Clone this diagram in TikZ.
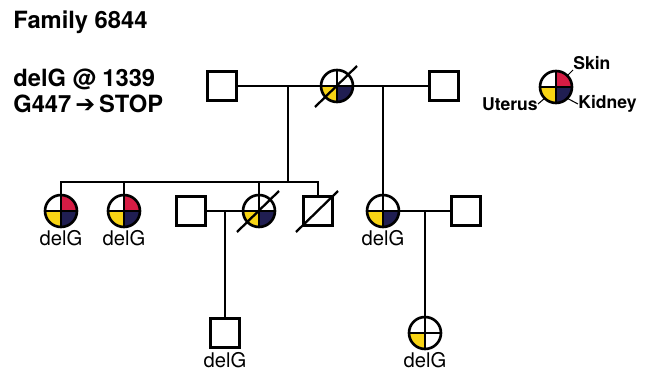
\documentclass[tikz,border=0pt]{standalone}
\usepackage{fontspec}
\setmainfont{TeX Gyre Heros}
\newfontfamily\arrowfont{DejaVu Sans}
\usetikzlibrary{calc,backgrounds}

\definecolor{skinred}{RGB}{214,28,68}
\definecolor{uterusyellow}{RGB}{248,212,20}
\definecolor{kidneynavy}{RGB}{32,30,82}

\tikzset{
  male/.style={draw, rectangle, line width=1.5pt, minimum size=0.58cm, inner sep=0pt, outer sep=0pt},
  female/.style={draw, circle, line width=1.5pt, minimum size=0.64cm, inner sep=0pt, outer sep=0pt,
    path picture={\draw[line width=1pt] (path picture bounding box.north) -- (path picture bounding box.south)
      (path picture bounding box.west) -- (path picture bounding box.east);}},
  line/.style={line width=1.5pt},
  dead/.style={line width=1.3pt},
  tick/.style={line width=0.6pt},
  lbl/.style={font=\fontsize{11.5}{14}\selectfont, inner sep=0pt},
  head/.style={font=\fontsize{13.5}{16}\selectfont\bfseries, anchor=west, inner sep=0pt},
  organ/.style={font=\fontsize{10}{12}\selectfont\bfseries, inner sep=0pt},
}
% one coloured quarter of a female symbol
\newcommand{\organq}[3]{%
  \fill[#3] (#1.center) -- (#1.#2) arc[start angle=#2, delta angle=90, radius=0.32cm] -- cycle;}
% slash through a deceased person
\newcommand{\deceased}[1]{%
  \draw[dead] ($(#1.center)+(-22,-21)$) -- ($(#1.center)+(20,20)$);}

\begin{document}
\begin{tikzpicture}[x=0.02cm, y=0.02cm]
  \useasboundingbox (0,0) rectangle (647,372);
  % Title and mutation
  \node[head] (title) at (13,350) {Family 6844};
  \node[head] (mut1) at (13,293) {delG @ 1339};
  \node[head] (mut2) at (13,268) {G447\,{\arrowfont ➔}\,STOP};
  % Generation I
  \node[male] (gfa) at (222,286) {};
  \node[female] (gm) at (337,286) {};
  \node[male] (gfb) at (444,286) {};
  \coordinate (ma) at (288,286);
  \coordinate (mb) at (383,286);
  \draw[line] (gfa) -- (gm) -- (gfb);
  % Generation II
  \coordinate (sib) at (288,190);
  \node[female] (d1) at (61,161) {};
  \node[female] (d2) at (124,161) {};
  \node[male] (h3) at (191,161) {};
  \node[female] (d3) at (259,161) {};
  \node[male] (s1) at (318,161) {};
  \node[female] (d4) at (383,161) {};
  \node[male] (h4) at (466,161) {};
  \draw[line] (ma) -- (sib);
  \draw[line] (d1) -- (d1 |- sib) -- (s1 |- sib) -- (s1);
  \draw[line] (d2) -- (d2 |- sib);
  \draw[line] (d3) -- (d3 |- sib);
  \draw[line] (mb) -- (d4);
  \draw[line] (h3) -- (d3);
  \draw[line] (d4) -- (h4);
  \node[lbl] (d1g) at (61,134) {delG};
  \node[lbl] (d2g) at (124,134) {delG};
  \node[lbl] (d4g) at (383,134) {delG};
  % Generation III
  \coordinate (mc) at (225,161);
  \coordinate (md) at (425,161);
  \node[male] (son) at (225,39) {};
  \node[female] (gd) at (425,39) {};
  \draw[line] (mc) -- (son);
  \draw[line] (md) -- (gd);
  \node[lbl] (song) at (225,12) {delG};
  \node[lbl] (gdg) at (425,12) {delG};
  % Key
  \node[female] (key) at (556,285) {};
  \node[organ, anchor=south west] (skin) at (573,302) {Skin};
  \node[organ, anchor=east] (uterus) at (538,268) {Uterus};
  \node[organ, anchor=west] (kidney) at (578,268) {Kidney};
  \draw[tick] (key.45) -- (skin.south west);
  \draw[tick] (key.225) -- (uterus.east);
  \draw[tick] (key.315) -- (kidney.west);
  % Deceased
  \deceased{gm}
  \deceased{d3}
  \deceased{s1}
  % Affected organs
  \begin{scope}[on background layer]
    \organq{key}{0}{skinred}
    \organq{key}{180}{uterusyellow}
    \organq{key}{270}{kidneynavy}
    \organq{gm}{180}{uterusyellow}
    \organq{gm}{270}{kidneynavy}
    \organq{d1}{0}{skinred}
    \organq{d1}{180}{uterusyellow}
    \organq{d1}{270}{kidneynavy}
    \organq{d2}{0}{skinred}
    \organq{d2}{180}{uterusyellow}
    \organq{d2}{270}{kidneynavy}
    \organq{d3}{180}{uterusyellow}
    \organq{d3}{270}{kidneynavy}
    \organq{d4}{180}{uterusyellow}
    \organq{d4}{270}{kidneynavy}
    \organq{gd}{180}{uterusyellow}
  \end{scope}
\end{tikzpicture}
\end{document}
